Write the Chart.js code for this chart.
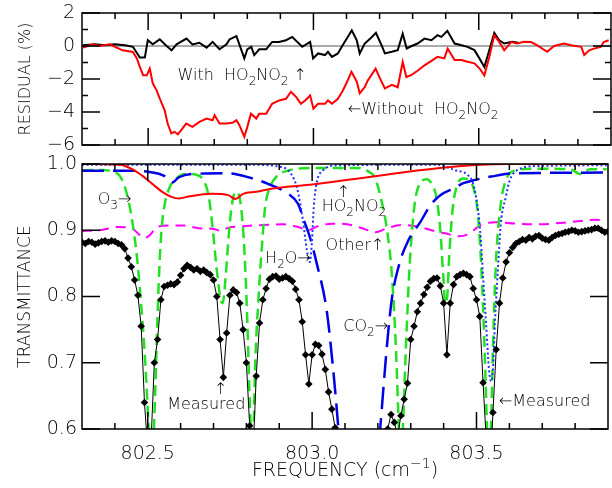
<!DOCTYPE html>
<html>
<head>
<meta charset="utf-8">
<script src="https://cdn.jsdelivr.net/npm/chart.js@4.4.0/dist/chart.umd.min.js"></script>
<style>
  html, body { margin: 0; padding: 0; background: #fff; }
  #wrap { position: relative; width: 612px; height: 488px; }
  canvas { position: absolute; left: 0; }
  #top { top: 0; }
  #bottom { top: 150px; }
</style>
</head>
<body>
<div id="wrap">
  <canvas id="top" width="612" height="160"></canvas>
  <canvas id="bottom" width="612" height="338"></canvas>
</div>
<script>
// axis ranges and ticks
var freqMin = 802.3, freqMax = 803.9;
var freqLabels = [802.5, 803.0, 803.5];
var freqMinor = [802.4, 802.6, 802.7, 802.8, 802.9, 803.1, 803.2, 803.3, 803.4, 803.6, 803.7, 803.8];
var resMajor = [2, 0, -2, -4, -6];
var resMinor = [1, -1, -3, -5];
var transMajor = [0.6, 0.7, 0.8, 0.9, 1.0];

// top panel: residuals (%)
var withF = [802.303, 802.339, 802.369, 802.399, 802.430, 802.454, 802.475, 802.490, 802.499, 802.514, 802.535, 802.556, 802.571, 802.586, 802.616, 802.634, 802.655, 802.677, 802.695, 802.716, 802.737, 802.746, 802.767, 802.776, 802.791, 802.800, 802.812, 802.821, 802.836, 802.857, 802.875, 802.896, 802.917, 802.936, 802.951, 802.966, 802.990, 802.999, 803.014, 803.035, 803.044, 803.056, 803.074, 803.087, 803.101, 803.116, 803.131, 803.140, 803.155, 803.177, 803.189, 803.207, 803.216, 803.237, 803.255, 803.270, 803.282, 803.297, 803.315, 803.336, 803.357, 803.375, 803.387, 803.405, 803.427, 803.448, 803.466, 803.487, 803.502, 803.517, 803.532, 803.547, 803.562, 803.577, 803.601, 803.619];
var withR = [0.05, 0.10, 0.05, 0.10, 0.05, -0.05, -0.70, -0.70, 0.35, 0.10, 0.40, 0.00, -0.26, 0.10, 0.45, 0.10, 0.20, -0.10, 0.25, -0.20, 0.10, 0.40, 0.60, 0.10, -0.75, -0.20, -0.05, -0.55, -0.20, -0.20, 0.25, 0.25, 0.35, 0.55, 0.25, -0.05, 0.25, -0.75, -0.45, -0.55, -0.35, -0.66, -0.45, 0.00, 0.45, 0.95, 0.35, -0.45, 0.15, 0.55, 0.80, 0.00, -0.45, -0.35, -0.25, 0.75, -0.15, 0.00, 0.15, 0.45, 0.35, 0.65, 0.55, 0.92, 0.15, 0.05, -0.05, -0.25, -0.75, -1.27, -0.25, 0.80, 0.35, 0.15, 0.25, 0.20];

var withoutF = [802.303, 802.333, 802.354, 802.384, 802.405, 802.423, 802.454, 802.466, 802.475, 802.485, 802.496, 802.505, 802.514, 802.526, 802.535, 802.550, 802.559, 802.570, 802.580, 802.590, 802.600, 802.615, 802.634, 802.655, 802.677, 802.695, 802.701, 802.716, 802.737, 802.755, 802.767, 802.776, 802.791, 802.800, 802.811, 802.827, 802.836, 802.857, 802.875, 802.896, 802.917, 802.932, 802.948, 802.962, 802.975, 802.990, 803.000, 803.014, 803.035, 803.044, 803.056, 803.074, 803.089, 803.101, 803.115, 803.131, 803.140, 803.155, 803.164, 803.188, 803.201, 803.216, 803.237, 803.255, 803.270, 803.281, 803.297, 803.315, 803.336, 803.357, 803.375, 803.396, 803.406, 803.427, 803.448, 803.466, 803.487, 803.502, 803.517, 803.532, 803.547, 803.562, 803.577, 803.598, 803.616, 803.637, 803.658, 803.676, 803.707, 803.728, 803.758, 803.779, 803.810, 803.819, 803.834, 803.848, 803.869, 803.878, 803.893];
var withoutR = [-0.10, 0.10, 0.00, 0.10, -0.10, -0.26, -0.36, -0.75, -1.27, -1.78, -1.78, -1.37, -2.26, -2.70, -3.17, -3.90, -4.70, -5.30, -5.20, -5.35, -5.10, -4.70, -4.90, -4.60, -4.40, -4.50, -4.20, -4.70, -4.70, -4.65, -4.50, -4.80, -5.50, -4.90, -4.10, -4.40, -4.10, -4.10, -3.50, -3.30, -3.20, -2.77, -3.10, -3.50, -3.30, -3.00, -3.80, -3.50, -3.50, -3.30, -3.50, -3.20, -2.70, -2.20, -1.56, -2.15, -2.87, -2.50, -2.10, -1.37, -1.95, -2.57, -2.35, -2.50, -0.97, -1.88, -1.75, -1.50, -1.17, -0.90, -0.66, -0.75, -0.16, -0.85, -0.85, -0.95, -1.05, -1.35, -1.78, -0.66, 0.65, 0.25, -0.26, 0.24, 0.15, 0.25, 0.24, 0.05, -0.35, 0.00, 0.15, 0.05, -0.05, -0.55, -0.26, -0.16, -0.06, 0.24, 0.35];

// bottom panel: measured transmittance, sampled every 0.01 cm-1 from 802.30
var measStart = 802.30, measStep = 0.01;
var measT = [0.882, 0.880, 0.883, 0.882, 0.879, 0.881, 0.883, 0.884, 0.882, 0.884,
  0.883, 0.880, 0.878, 0.872, 0.858, 0.845, 0.825, 0.802, 0.755, 0.640,
  0.570, 0.580, 0.700, 0.735, 0.795, 0.815, 0.817, 0.819, 0.818, 0.822,
  0.832, 0.842, 0.847, 0.844, 0.840, 0.842, 0.838, 0.840, 0.836, 0.833,
  0.825, 0.800, 0.735, 0.678, 0.745, 0.802, 0.810, 0.806, 0.790, 0.750,
  0.700, 0.605, 0.560, 0.680, 0.760, 0.795, 0.812, 0.826, 0.830, 0.831,
  0.826, 0.828, 0.830, 0.827, 0.823, 0.811, 0.795, 0.762, 0.712, 0.668,
  0.712, 0.728, 0.726, 0.713, 0.690, 0.656, 0.630, 0.602, 0.580, 0.500,
  0.500, 0.500, 0.500, 0.500, 0.500, 0.500, 0.500, 0.500, 0.500, 0.500,
  0.500, 0.500, 0.500, 0.600, 0.622, 0.610, 0.590, 0.620, 0.645, 0.669,
  0.735, 0.755, 0.777, 0.790, 0.803, 0.814, 0.823, 0.827, 0.828, 0.816,
  0.790, 0.712, 0.790, 0.818, 0.830, 0.833, 0.835, 0.833, 0.830, 0.812,
  0.795, 0.770, 0.670, 0.580, 0.520, 0.625, 0.720, 0.790, 0.828, 0.852,
  0.866, 0.874, 0.880, 0.883, 0.886, 0.885, 0.889, 0.887, 0.891, 0.892,
  0.888, 0.886, 0.885, 0.889, 0.892, 0.894, 0.895, 0.897, 0.898, 0.900,
  0.899, 0.897, 0.898, 0.899, 0.900, 0.901, 0.903, 0.903, 0.900, 0.897,
  0.898];

// model transmittances
var hnF = [802.30, 802.414, 802.454, 802.484, 802.514, 802.544, 802.574, 802.595, 802.625, 802.695, 802.745, 802.767, 802.790, 802.830, 802.880, 802.975, 803.597, 803.90];
var hnT = [1.000, 0.999, 0.992, 0.982, 0.970, 0.958, 0.950, 0.948, 0.951, 0.955, 0.953, 0.947, 0.955, 0.958, 0.963, 0.968, 1.000, 1.000];

var co2F = [802.300, 802.430, 802.505, 802.550, 802.574, 802.595, 802.640, 802.746, 802.806, 802.866, 802.927, 802.957, 802.975, 802.993, 803.014, 803.044, 803.062, 803.080, 803.092, 803.195, 803.207, 803.240, 803.264, 803.291, 803.330, 803.360, 803.390, 803.430, 803.460, 803.496, 803.544, 803.619, 803.900];
var co2T = [0.990, 0.990, 0.988, 0.982, 0.972, 0.980, 0.985, 0.986, 0.980, 0.970, 0.955, 0.940, 0.915, 0.890, 0.850, 0.780, 0.700, 0.600, 0.520, 0.520, 0.600, 0.787, 0.847, 0.883, 0.913, 0.938, 0.953, 0.963, 0.971, 0.976, 0.981, 0.986, 0.987];

var o3F = [802.300, 802.354, 802.393, 802.420, 802.439, 802.454, 802.466, 802.478, 802.490, 802.499, 802.505, 802.511, 802.517, 802.523, 802.529, 802.535, 802.541, 802.550, 802.565, 802.586, 802.616, 802.646, 802.670, 802.686, 802.698, 802.710, 802.722, 802.728, 802.737, 802.746, 802.755, 802.767, 802.776, 802.785, 802.794, 802.803, 802.809, 802.815, 802.818, 802.821, 802.827, 802.836, 802.847, 802.857, 802.872, 802.893, 802.927, 802.957, 803.047, 803.137, 803.167, 803.192, 803.213, 803.228, 803.243, 803.255, 803.264, 803.270, 803.276, 803.285, 803.297, 803.312, 803.330, 803.348, 803.366, 803.378, 803.390, 803.399, 803.405, 803.411, 803.417, 803.427, 803.439, 803.460, 803.478, 803.493, 803.505, 803.517, 803.526, 803.532, 803.538, 803.544, 803.550, 803.559, 803.574, 803.589, 803.616, 803.680, 803.785, 803.815, 803.845, 803.896];
var o3T = [0.990, 0.991, 0.989, 0.978, 0.950, 0.910, 0.865, 0.800, 0.720, 0.640, 0.580, 0.540, 0.580, 0.660, 0.760, 0.840, 0.895, 0.935, 0.963, 0.978, 0.985, 0.984, 0.975, 0.950, 0.900, 0.840, 0.795, 0.790, 0.830, 0.890, 0.935, 0.958, 0.955, 0.930, 0.870, 0.760, 0.660, 0.580, 0.540, 0.580, 0.700, 0.790, 0.874, 0.935, 0.965, 0.982, 0.990, 0.993, 0.994, 0.994, 0.990, 0.978, 0.940, 0.900, 0.830, 0.720, 0.600, 0.540, 0.600, 0.720, 0.850, 0.940, 0.972, 0.977, 0.968, 0.950, 0.900, 0.830, 0.790, 0.800, 0.860, 0.930, 0.965, 0.978, 0.975, 0.960, 0.920, 0.820, 0.700, 0.600, 0.540, 0.600, 0.720, 0.850, 0.940, 0.975, 0.990, 0.993, 0.992, 0.985, 0.992, 0.992];

var h2oF = [802.300, 802.806, 802.911, 802.936, 802.954, 802.972, 802.984, 802.993, 802.999, 803.005, 803.014, 803.032, 803.077, 803.378, 803.439, 803.469, 803.490, 803.502, 803.511, 803.520, 803.529, 803.538, 803.544, 803.550, 803.556, 803.565, 803.574, 803.589, 803.601, 803.622, 803.682, 803.896];
var h2oT = [0.999, 0.999, 0.995, 0.985, 0.964, 0.915, 0.870, 0.852, 0.880, 0.935, 0.972, 0.990, 0.998, 0.999, 0.990, 0.985, 0.970, 0.940, 0.900, 0.830, 0.760, 0.690, 0.672, 0.690, 0.760, 0.840, 0.910, 0.950, 0.975, 0.990, 0.997, 0.998];

var otherF = [802.300, 802.354, 802.408, 802.454, 802.475, 802.490, 802.505, 802.529, 802.565, 802.610, 802.655, 802.701, 802.722, 802.746, 802.791, 802.851, 802.911, 802.957, 802.987, 803.017, 803.062, 803.107, 803.152, 803.192, 803.228, 803.273, 803.318, 803.363, 803.408, 803.445, 803.475, 803.514, 803.559, 803.619, 803.695, 803.755, 803.815, 803.860, 803.896];
var otherT = [0.899, 0.900, 0.905, 0.902, 0.893, 0.888, 0.892, 0.905, 0.907, 0.907, 0.903, 0.902, 0.899, 0.904, 0.906, 0.908, 0.909, 0.905, 0.900, 0.906, 0.910, 0.909, 0.903, 0.897, 0.903, 0.908, 0.906, 0.900, 0.895, 0.891, 0.894, 0.908, 0.912, 0.910, 0.909, 0.911, 0.914, 0.916, 0.914];

var FONT = '"DejaVu Sans", sans-serif';
var WEIGHT = '200';
Chart.defaults.font.family = FONT;
Chart.defaults.font.weight = WEIGHT;
Chart.defaults.color = '#000';

function zip(xs, ys) {
    return xs.map(function (x, i) { return { x: x, y: ys[i] }; });
}

// text with sub (b) / superscript (p) pieces
function rich(ctx, x, y, parts, size, align) {
    var small = Math.round(size * 0.72);
    var w = 0;
    parts.forEach(function (p) {
        ctx.font = WEIGHT + ' ' + (p[1] ? small : size) + 'px ' + FONT;
        w += ctx.measureText(p[0]).width;
    });
    var cx = align === 'center' ? x - w / 2 : x;
    ctx.textAlign = 'left';
    parts.forEach(function (p) {
        ctx.font = WEIGHT + ' ' + (p[1] ? small : size) + 'px ' + FONT;
        var dy = p[1] === 'b' ? size * 0.3 : (p[1] === 'p' ? -size * 0.42 : 0);
        ctx.fillText(p[0], cx, y + dy);
        cx += ctx.measureText(p[0]).width;
    });
}

var framePlugin = {
    id: 'frame',
    beforeDatasetsDraw: function (chart, args, o) {
        if (!o.zero) return;
        var ctx = chart.ctx, a = chart.chartArea;
        var y0 = chart.scales.y.getPixelForValue(0);
        ctx.save();
        ctx.strokeStyle = '#555';
        ctx.lineWidth = 1;
        ctx.beginPath();
        ctx.moveTo(a.left, y0);
        ctx.lineTo(a.right, y0);
        ctx.stroke();
        ctx.restore();
    },
    afterDatasetsDraw: function (chart, args, o) {
        var ctx = chart.ctx, a = chart.chartArea;
        var xs = chart.scales.x, ys = chart.scales.y;
        ctx.save();
        ctx.strokeStyle = '#000';
        ctx.lineWidth = 1.5;
        ctx.strokeRect(a.left, a.top, a.width, a.height);
        ctx.beginPath();
        function xt(v, len) {
            var p = xs.getPixelForValue(v);
            ctx.moveTo(p, a.bottom); ctx.lineTo(p, a.bottom - len);
            ctx.moveTo(p, a.top); ctx.lineTo(p, a.top + len);
        }
        function yt(v, len) {
            var p = ys.getPixelForValue(v);
            ctx.moveTo(a.left, p); ctx.lineTo(a.left + len, p);
            ctx.moveTo(a.right, p); ctx.lineTo(a.right - len, p);
        }
        freqLabels.forEach(function (v) { xt(v, 17); });
        freqMinor.forEach(function (v) { xt(v, 6); });
        o.yMajor.forEach(function (v) { yt(v, 18); });
        (o.yMinor || []).forEach(function (v) { yt(v, 6); });
        ctx.stroke();

        ctx.fillStyle = '#000';
        ctx.textBaseline = 'alphabetic';
        (o.notes || []).forEach(function (n) {
            rich(ctx, xs.getPixelForValue(n.x), ys.getPixelForValue(n.y), n.parts, 16, n.align);
        });
        // axis titles
        ctx.save();
        ctx.translate(30, (a.top + a.bottom) / 2);
        ctx.rotate(-Math.PI / 2);
        rich(ctx, 0, 0, [[o.yTitle, '']], o.yTitleSize, 'center');
        ctx.restore();
        if (o.xTitle) rich(ctx, (a.left + a.right) / 2, a.bottom + 47, o.xTitle, 19, 'center');
        ctx.restore();
    }
};

var noTicks = { display: false, drawTicks: false };

new Chart(document.getElementById('top'), {
    type: 'line',
    data: {
        datasets: [
            { data: zip(withoutF, withoutR), borderColor: '#ff0000', borderWidth: 2, pointRadius: 0 },
            { data: zip(withF, withR), borderColor: '#000000', borderWidth: 2, pointRadius: 0 }
        ]
    },
    options: {
        animation: false,
        responsive: false,
        layout: { padding: { top: 13, right: 1, bottom: 15, left: 0 } },
        plugins: {
            legend: { display: false },
            tooltip: { enabled: false },
            frame: {
                zero: true, yMajor: resMajor, yMinor: resMinor, yTitle: 'RESIDUAL (%)', yTitleSize: 16,
                notes: [
                    { x: 802.589, y: -2.05, parts: [['With  HO', ''], ['2', 'b'], ['NO', ''], ['2', 'b'], [' \u2191', '']] },
                    { x: 803.104, y: -4.15, parts: [['\u2190Without  HO', ''], ['2', 'b'], ['NO', ''], ['2', 'b']] }
                ]
            }
        },
        scales: {
            x: { type: 'linear', min: freqMin, max: freqMax, display: false },
            y: {
                min: -6, max: 2,
                afterBuildTicks: function (s) { s.ticks = resMajor.map(function (v) { return { value: v }; }); },
                ticks: { font: { size: 19 }, padding: 7, callback: function (v) { return v < 0 ? '\u2212' + Math.abs(v) : String(v); } },
                grid: noTicks,
                border: { display: false },
                afterFit: function (s) { s.width = 82; s.paddingTop = 0; s.paddingBottom = 0; }
            }
        }
    },
    plugins: [framePlugin]
});

new Chart(document.getElementById('bottom'), {
    type: 'line',
    data: {
        datasets: [
            { data: measT.map(function (t, i) { return { x: +(measStart + i * measStep).toFixed(2), y: t }; }),
              borderColor: '#000', borderWidth: 1, pointStyle: 'rectRot', pointRadius: 3.8,
              pointBackgroundColor: '#000', pointBorderWidth: 0 },
            { data: zip(hnF, hnT), borderColor: '#ff0000', borderWidth: 2, pointRadius: 0, cubicInterpolationMode: 'monotone' },
            { data: zip(h2oF, h2oT), borderColor: '#2030ff', borderWidth: 2, borderDash: [2, 2.5], pointRadius: 0, cubicInterpolationMode: 'monotone' },
            { data: zip(co2F, co2T), borderColor: '#0000e6', borderWidth: 2.5, borderDash: [22, 9], pointRadius: 0, cubicInterpolationMode: 'monotone' },
            { data: zip(o3F, o3T), borderColor: '#22e022', borderWidth: 2.5, borderDash: [11, 6], pointRadius: 0, cubicInterpolationMode: 'monotone' },
            { data: zip(otherF, otherT), borderColor: '#ff00ff', borderWidth: 2, borderDash: [10, 7], pointRadius: 0, cubicInterpolationMode: 'monotone' }
        ]
    },
    options: {
        animation: false,
        responsive: false,
        layout: { padding: { top: 14, right: 1, bottom: 0, left: 0 } },
        plugins: {
            legend: { display: false },
            tooltip: { enabled: false },
            frame: {
                yMajor: transMajor, yTitle: 'TRANSMITTANCE', yTitleSize: 17,
                xTitle: [['FREQUENCY (cm', ''], ['\u22121', 'p'], [')', '']],
                notes: [
                    { x: 802.348, y: 0.9395, parts: [['O', ''], ['3', 'b'], ['\u2192', '']] },
                    { x: 802.857, y: 0.8505, parts: [['H', ''], ['2', 'b'], ['O\u2192', '']] },
                    { x: 803.095, y: 0.9505, parts: [['\u2191', '']], align: 'center' },
                    { x: 803.029, y: 0.929, parts: [['HO', ''], ['2', 'b'], ['NO', ''], ['2', 'b']] },
                    { x: 803.041, y: 0.870, parts: [['Other\u2191', '']] },
                    { x: 803.095, y: 0.7477, parts: [['CO', ''], ['2', 'b'], ['\u2192', '']] },
                    { x: 802.722, y: 0.6526, parts: [['\u2191', '']], align: 'center' },
                    { x: 802.559, y: 0.630, parts: [['Measured', '']] },
                    { x: 803.568, y: 0.6344, parts: [['\u2190Measured', '']] }
                ]
            }
        },
        scales: {
            x: {
                type: 'linear', min: freqMin, max: freqMax,
                afterBuildTicks: function (s) { s.ticks = freqLabels.map(function (v) { return { value: v }; }); },
                ticks: { font: { size: 19 }, padding: 14, maxRotation: 0, autoSkip: false, callback: function (v) { return v.toFixed(1); } },
                grid: noTicks,
                border: { display: false },
                afterFit: function (s) { s.height = 59; s.paddingLeft = 0; s.paddingRight = 0; }
            },
            y: {
                min: 0.6, max: 1.0,
                afterBuildTicks: function (s) { s.ticks = transMajor.map(function (v) { return { value: v }; }); },
                ticks: { font: { size: 19 }, padding: 5, callback: function (v) { return v.toFixed(1); } },
                grid: noTicks,
                border: { display: false },
                afterFit: function (s) { s.width = 82; s.paddingTop = 0; s.paddingBottom = 0; }
            }
        }
    },
    plugins: [framePlugin]
});
</script>
</body>
</html>
